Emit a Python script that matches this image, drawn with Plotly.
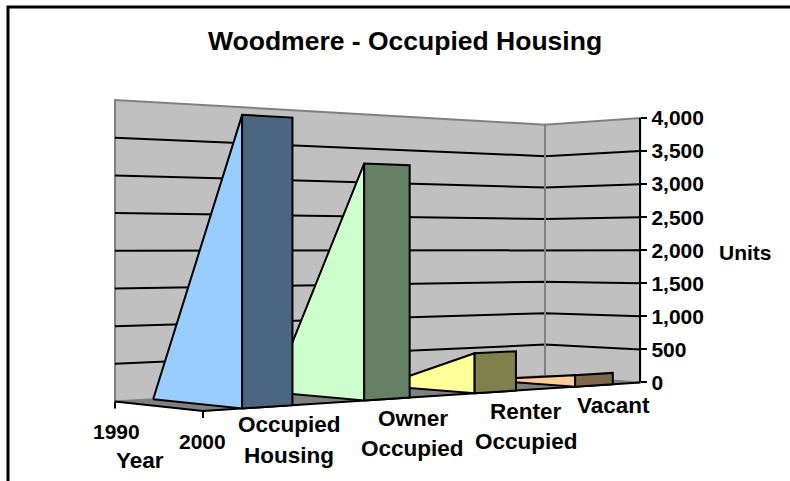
import numpy as np
import plotly.graph_objects as go

# ---- data ----
title = "Woodmere - Occupied Housing"
years = ["1990", "2000"]
series = ["Occupied Housing", "Owner Occupied", "Renter Occupied", "Vacant"]
values_1990 = [0, 0, 0, 0]
values_2000 = [3720, 3160, 560, 170]
y_ticks = [0, 500, 1000, 1500, 2000, 2500, 3000, 3500, 4000]
light_colors = ["#99CCFF", "#CCFFCC", "#FFFF99", "#FFCC99"]
dark_colors = ["#4C6680", "#668066", "#80804C", "#80664C"]

# ---- perspective camera of the 3-D box (pixel space) ----
A = np.array([115.0, 401.5])
B = np.array([545.0, 376.0])
D = np.array([203.0, 411.0])
WB, WD = 1.2, 0.94
H0 = 301.5 / 4000.0
N = len(series)


def project(u, s, v=0.0):
    """u: year position 0..1, s: series position 0..N, v: value."""
    p, q = s / N, u
    w = 1 + (WB - 1) * p + (WD - 1) * q
    pt = (A + (WB * B - A) * p + (WD * D - A) * q) / w
    return float(pt[0]), float(pt[1] - v * H0 / w)


def poly(points, fill, line="black", width=2):
    xs = [p[0] for p in points] + [points[0][0]]
    ys = [p[1] for p in points] + [points[0][1]]
    return go.Scatter(x=xs, y=ys, mode="lines", fill="toself", fillcolor=fill,
                      line=dict(color=line, width=width), hoverinfo="skip",
                      showlegend=False, xaxis="x", yaxis="y")


def path(points, color="black", width=2):
    return go.Scatter(x=[p[0] for p in points], y=[p[1] for p in points], mode="lines",
                      line=dict(color=color, width=width), hoverinfo="skip",
                      showlegend=False, xaxis="x", yaxis="y")


fig = go.Figure()
top = y_ticks[-1]

# walls and floor
fig.add_trace(poly([project(0, 0), project(0, N), project(0, N, top), project(0, 0, top)],
                   "#C0C0C0", "#808080", 2))
fig.add_trace(poly([project(0, N), project(1, N), project(1, N, top), project(0, N, top)],
                   "#C0C0C0", "#808080", 2))
fig.add_trace(poly([project(0, 0), project(0, N), project(1, N), project(1, 0)],
                   "#808080", "#808080", 1))
# gridlines on both walls
for t in y_ticks[1:-1]:
    fig.add_trace(path([project(0, 0, t), project(0, N, t), project(1, N, t)]))
# wall corner sits over the gridlines
fig.add_trace(path([project(0, N), project(0, N, top)], "#808080", 2))

# floor axis lines
fig.add_trace(path([project(0, 0), project(1, 0), project(1, N)]))

# series, back-most painted first
for i in reversed(range(N)):
    s0, s1 = i + 0.3, i + 0.7
    fig.add_trace(poly([project(0, s0, values_1990[i]), project(0, s0),
                        project(1, s0), project(1, s0, values_2000[i])], light_colors[i]))
    fig.add_trace(poly([project(1, s0), project(1, s1),
                        project(1, s1, values_2000[i]), project(1, s0, values_2000[i])], dark_colors[i]))

# year-axis ticks
for u in (0, 1):
    x0, y0 = project(u, 0)
    fig.add_trace(path([(x0, y0), (x0, y0 + 7)]))

# real value axis
xr, y0r = project(1, N)
_, y1r = project(1, N, top)
fig.add_trace(go.Scatter(x=[None], y=[None], xaxis="x", yaxis="y2", showlegend=False, hoverinfo="skip"))

FONT = "Liberation Sans"
fig.update_layout(
    width=790, height=481, margin=dict(l=0, r=0, t=0, b=0, pad=0, autoexpand=False),
    paper_bgcolor="rgba(0,0,0,0)", plot_bgcolor="rgba(0,0,0,0)", showlegend=False,
    font=dict(family=FONT, color="black"),
    xaxis=dict(range=[0, 790], visible=False, domain=[0, 1], fixedrange=True),
    yaxis=dict(range=[481, 0], visible=False, domain=[0, 1], fixedrange=True),
    yaxis2=dict(range=[0, top], domain=[(481 - y0r) / 481, (481 - y1r) / 481], anchor="free",
                position=xr / 790, side="right", tickvals=y_ticks, tickformat=",",
                ticks="outside", ticklen=6, tickwidth=2, tickcolor="black",
                showline=True, linecolor="black", linewidth=2, showgrid=False, zeroline=False,
                tickfont=dict(family=FONT, size=21, color="black", weight="bold"), fixedrange=True),
)


def label(text, x, y, size=21):
    fig.add_annotation(text=f"<b>{text}</b>", x=x, y=y, xref="x", yref="y", showarrow=False,
                       font=dict(family=FONT, size=size, color="black"), xanchor="center", yanchor="middle")


label(title, 404.5, 41, 26.5)
label(years[0], 116, 431)
label(years[1], 202, 441)
label("Year", 139.5, 460, 22.5)
label("Units", 745, 252)
label("Occupied", 289, 424, 22.5)
label("Housing", 289, 455, 22.5)
label("Owner", 412.5, 418, 22.5)
label("Occupied", 412, 448, 22.5)
label("Renter", 526, 411, 22.5)
label("Occupied", 526, 441, 22.5)
label("Vacant", 613, 405, 22.5)

# chart frame: top and left edges only
fig.add_trace(path([(8, 481), (8, 7), (790, 7)], "black", 3))

fig.write_html("out.html", config={"displayModeBar": False, "staticPlot": True},
               post_script="document.body.style.margin='0';")
